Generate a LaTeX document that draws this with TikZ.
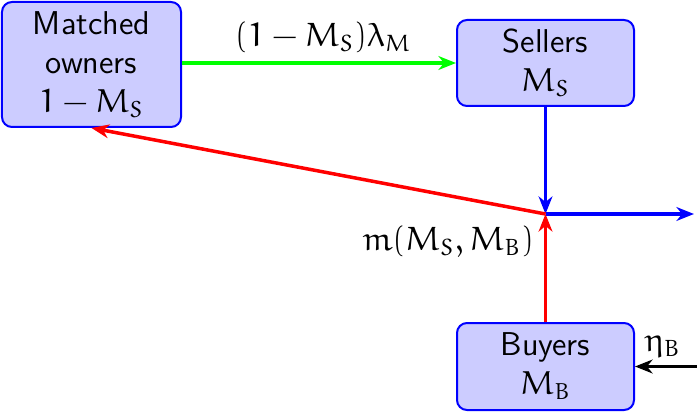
\IfFileExists{fix-cm.sty}{\RequirePackage{fix-cm}}{}
\documentclass[tikz,border=0pt]{standalone}
\IfFileExists{eulervm.sty}{\usepackage{eulervm}}{\IfFileExists{euler.sty}{\usepackage{euler}}{}}
\usetikzlibrary{arrows.meta}
\begin{document}
\begin{tikzpicture}[x=0.4pt,y=-0.4pt,
  box/.style={draw=blue, fill=blue!20, thick, rounded corners=4pt, align=center,
    font=\sffamily\fontsize{13.2}{15.6}\selectfont, inner sep=0pt},
  arr/.style={line width=1.4pt, -{Stealth[length=7pt,width=5.5pt,inset=2.2pt]}},
  lab/.style={font=\fontsize{13.4}{14}\selectfont, inner sep=0pt}]
\useasboundingbox (0,0) rectangle (697,412);
\node[box, minimum width=71.6pt, minimum height=50pt] (mo) at (91.5,64.5) {Matched\\owners\\$1-M_S$};
\node[box, minimum width=70.8pt, minimum height=34.4pt] (se) at (545.5,63) {Sellers\\$M_S$};
\node[box, minimum width=70.8pt, minimum height=34.8pt] (bu) at (545.5,366.5) {Buyers\\$M_B$};
\coordinate (j) at (545.5,214);
\coordinate (out) at (694,214);
\coordinate (in) at (697,366.5);
\draw[arr, green] (se.west -| mo.east) -- (se.west);
\draw[arr, blue] (se.south) -- (j);
\draw[arr, blue] (j) -- (out);
\draw[arr, red] (bu.north) -- (j);
\draw[arr, red] (j) -- (mo.south);
\draw[arr, black] (in) -- (bu.east);
\node[lab] (l1) at (323,38) {$(1-M_S)\lambda_M$};
\node[lab] (l2) at (448,242) {$m(M_S,M_B)$};
\node[lab] (l3) at (663,347) {$\eta_B$};
\end{tikzpicture}
\end{document}
